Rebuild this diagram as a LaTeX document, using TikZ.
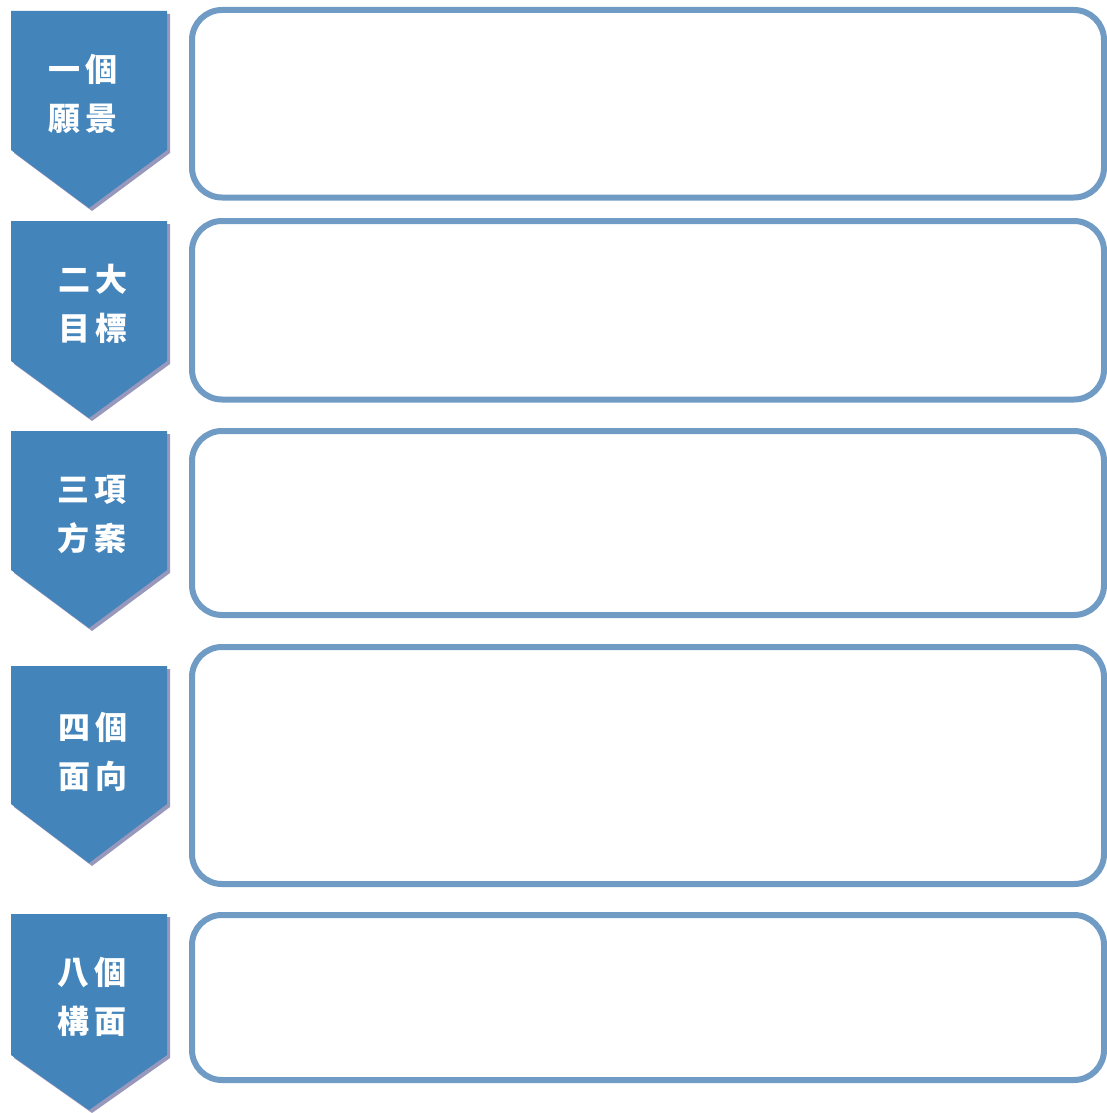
\documentclass[tikz,border=0pt]{standalone}
\usepackage{fontspec}
\newfontfamily\cjk{Noto Sans CJK TC}
\definecolor{chevblue}{RGB}{67,132,186}
\definecolor{chevshadow}{RGB}{152,152,188}
\definecolor{boxline}{RGB}{112,155,196}
\begin{document}
\begin{tikzpicture}[x=1pt,y=-1pt,
  chev/.style={fill=chevblue,draw=none},
  chevsh/.style={fill=chevshadow,draw=none},
  panel/.style={draw=boxline,line width=6pt,rounded corners=30pt,fill=white},
  lbl/.style={text=white,font=\cjk\bfseries\fontsize{32}{49}\selectfont,align=center,inner sep=0pt}]
\useasboundingbox (0,0) rectangle (1106,1113);
\fill[white] (0,0) rectangle (1106,1113);
% chevrons: top, shoulder, tip, label x, label y (centre)
\foreach \t/\s/\p/\lx/\ly/\name/\txt in {
  11/150/208/83/94/c1/{一\hspace{5pt}個\\願\hspace{5pt}景},
  221/361/418/93/304/c2/{二\hspace{5pt}大\\目\hspace{5pt}標},
  431/570/628/92/515/c3/{三\hspace{5pt}項\\方\hspace{5pt}案},
  666/804/863/93/752/c4/{四\hspace{5pt}個\\面\hspace{5pt}向},
  914/1055/1110/92/997/c5/{八\hspace{5pt}個\\構\hspace{5pt}面}}{
  \fill[chevsh] (14,\t+3) -- (170,\t+3) -- (170,\s+3) -- (92,\p+3) -- (14,\s+3) -- cycle;
  \fill[chev] (11,\t) -- (167,\t) -- (167,\s) -- (89,\p) -- (11,\s) -- cycle;
  \node[lbl] (\name) at (\lx,\ly) {\txt};
}
% panels
\draw[panel] (192,10) rectangle (1104,197.5);
\draw[panel] (192,221) rectangle (1104,399.5);
\draw[panel] (192,431) rectangle (1104,615);
\draw[panel] (192,647) rectangle (1104,884);
\draw[panel] (192,915) rectangle (1104,1080);
\end{tikzpicture}
\end{document}
